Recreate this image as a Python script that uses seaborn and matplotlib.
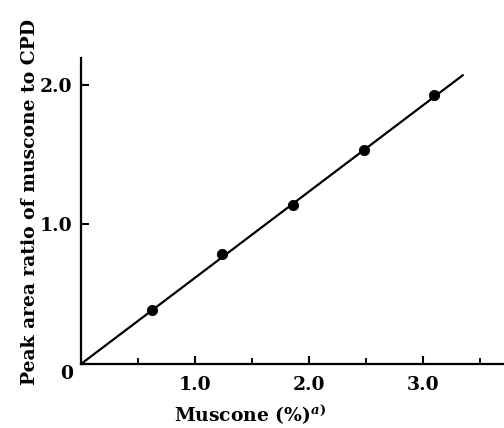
import matplotlib
matplotlib.use("Agg")
import matplotlib.pyplot as plt
import matplotlib.transforms as mtransforms
import seaborn as sns
import pandas as pd

# data
muscone_pct = [0.62, 1.24, 1.86, 2.48, 3.10]
peak_ratio = [0.39, 0.79, 1.14, 1.53, 1.93]
fit_x = [0.0, 3.35]
fit_y = [0.0, 2.07]
x_ticks = [1.0, 2.0, 3.0]
x_ticklabels = ["1.0", "2.0", "3.0"]
y_ticks = [0.0, 1.0, 2.0]
y_ticklabels = ["0", "1.0", "2.0"]

sns.set_style("ticks")
plt.rcParams["font.family"] = ["DejaVu Serif"]
plt.rcParams["font.weight"] = "bold"
plt.rcParams["axes.labelweight"] = "bold"
plt.rcParams["mathtext.fontset"] = "dejavuserif"
plt.rcParams["mathtext.default"] = "it"
plt.rcParams["text.color"] = "black"
plt.rcParams["axes.labelcolor"] = "black"
plt.rcParams["xtick.color"] = "black"
plt.rcParams["ytick.color"] = "black"

df = pd.DataFrame({"x": muscone_pct, "y": peak_ratio})
fit = pd.DataFrame({"x": fit_x, "y": fit_y})

fig = plt.figure(figsize=(5.04, 4.28), dpi=100)
ax = fig.add_axes([81 / 504, 1 - 364 / 428, 1 - 81 / 504, (364 - 58) / 428])

sns.lineplot(data=fit, x="x", y="y", ax=ax, color="black", linewidth=1.6)
sns.scatterplot(data=df, x="x", y="y", ax=ax, color="black", s=55,
                edgecolor="black", zorder=5)

ax.set_xlim(0, (504 - 81) / 114)
ax.set_ylim(0, (365 - 58) / 140)

ax.set_xticks(x_ticks)
ax.set_xticklabels(x_ticklabels)
ax.set_xticks([0.5, 1.5, 2.5, 3.5], minor=True)
ax.set_yticks(y_ticks)
ax.set_yticklabels(y_ticklabels)

ax.tick_params(axis="both", which="major", direction="in", length=6,
               width=1.5, labelsize=13.5, color="black", labelcolor="black")
ax.tick_params(axis="x", which="major", pad=9)
ax.tick_params(axis="y", which="major", pad=6)
ax.tick_params(axis="x", which="minor", direction="in", length=4, width=1.3)

# nudge the origin label down a little
lbl0 = ax.get_yticklabels()[0]
lbl0.set_transform(lbl0.get_transform() + mtransforms.ScaledTranslation(0, -6 / 72, fig.dpi_scale_trans))

for s in ["top", "right"]:
    ax.spines[s].set_visible(False)
for s in ["left", "bottom"]:
    ax.spines[s].set_linewidth(1.6)
    ax.spines[s].set_color("black")

ax.set_xlabel(r"Muscone (%)$^{a)}$", fontsize=13.5, color="black", fontweight="bold")
ax.set_ylabel("Peak area ratio of muscone to CPD", fontsize=13.5, color="black", fontweight="bold")
ax.xaxis.set_label_coords(0.40, -0.125)
ax.yaxis.set_label_coords(-0.10, 0.53)

fig.savefig("out.png", dpi=100)
